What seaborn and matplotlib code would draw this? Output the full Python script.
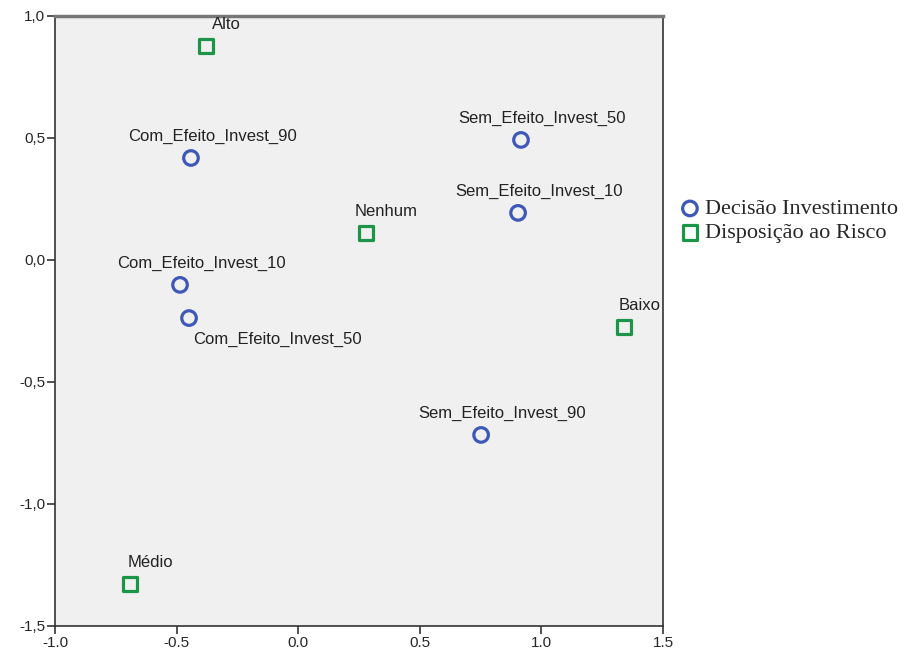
import pandas as pd
import matplotlib
matplotlib.use('Agg')
import matplotlib.pyplot as plt
import seaborn as sns
from matplotlib.ticker import FixedLocator

# Category points
labels = ['Com_Efeito_Invest_10', 'Com_Efeito_Invest_50', 'Com_Efeito_Invest_90',
          'Sem_Efeito_Invest_10', 'Sem_Efeito_Invest_50', 'Sem_Efeito_Invest_90',
          'Alto', 'Baixo', 'Médio', 'Nenhum']
dim1 = [-0.486, -0.449, -0.441, 0.904, 0.916, 0.752, -0.379, 1.340, -0.692, 0.279]
dim2 = [-0.102, -0.238, 0.418, 0.193, 0.492, -0.717, 0.877, -0.275, -1.328, 0.111]
group = ['Decisão Investimento'] * 6 + ['Disposição ao Risco'] * 4

x_ticks = [-1.0, -0.5, 0.0, 0.5, 1.0, 1.5]
x_tick_labels = ['-1.0', '-0.5', '0.0', '0.5', '1.0', '1.5']
y_ticks = [-1.5, -1.0, -0.5, 0.0, 0.5, 1.0]
y_tick_labels = ['-1,5', '-1,0', '-0,5', '0,0', '0,5', '1,0']

df = pd.DataFrame({'label': labels, 'dim1': dim1, 'dim2': dim2, 'group': group})

# label offsets in points relative to the marker (text anchored at left/bottom)
label_offsets = {
    'Com_Efeito_Invest_10': (-45, 10), 'Com_Efeito_Invest_50': (3, -21),
    'Com_Efeito_Invest_90': (-45, 10), 'Sem_Efeito_Invest_10': (-45, 10),
    'Sem_Efeito_Invest_50': (-45, 10), 'Sem_Efeito_Invest_90': (-45, 10),
    'Alto': (4, 10), 'Baixo': (-4, 10), 'Médio': (-2, 10), 'Nenhum': (-8, 10),
}

sns.set_style('white')
plt.rcParams['font.family'] = ['Liberation Sans', 'DejaVu Sans']

fig = plt.figure(figsize=(9.08, 6.55), dpi=100)
ax = fig.add_axes([0.0606, 0.0443, 0.6696, 0.9313])
ax.set_facecolor('#f0f0f0')

palette = {'Decisão Investimento': '#3e58b8', 'Disposição ao Risco': '#1c9548'}
markers = {'Decisão Investimento': 'o', 'Disposição ao Risco': 's'}
for g, sub in df.groupby('group', sort=False):
    sns.scatterplot(data=sub, x='dim1', y='dim2', ax=ax, marker=markers[g],
                    facecolor='none', edgecolor=palette[g], linewidth=2.3,
                    s=110, label=g, zorder=3)

for _, r in df.iterrows():
    dx, dy = label_offsets[r['label']]
    ax.annotate(r['label'], (r['dim1'], r['dim2']), xytext=(dx, dy),
                textcoords='offset points', fontsize=12, color='#222222',
                ha='left', va='bottom', annotation_clip=False, clip_on=True)

ax.set_xlim(-1.0, 1.5)
ax.set_ylim(-1.5, 1.0)
ax.xaxis.set_major_locator(FixedLocator(x_ticks))
ax.yaxis.set_major_locator(FixedLocator(y_ticks))
ax.set_xticklabels(x_tick_labels, fontsize=11)
ax.set_yticklabels(y_tick_labels, fontsize=11)
ax.tick_params(axis='both', direction='out', length=6, width=1.2, color='#333333',
               bottom=True, left=True, top=False, right=False, pad=1)
ax.set_xlabel('')
ax.set_ylabel('')
for side in ['left', 'bottom', 'right']:
    ax.spines[side].set_color('#333333')
    ax.spines[side].set_linewidth(1.2)
ax.spines['top'].set_color('#777777')
ax.spines['top'].set_linewidth(2.5)

leg = ax.legend(loc='center left', bbox_to_anchor=(1.026, 0.664), frameon=False,
                prop={'family': 'Liberation Serif', 'size': 16},
                handletextpad=0.2, labelspacing=0.15, borderaxespad=0,
                borderpad=0, handlelength=1.0)
for h in leg.legend_handles:
    h.set_sizes([110])

fig.savefig('out.png', dpi=100)
